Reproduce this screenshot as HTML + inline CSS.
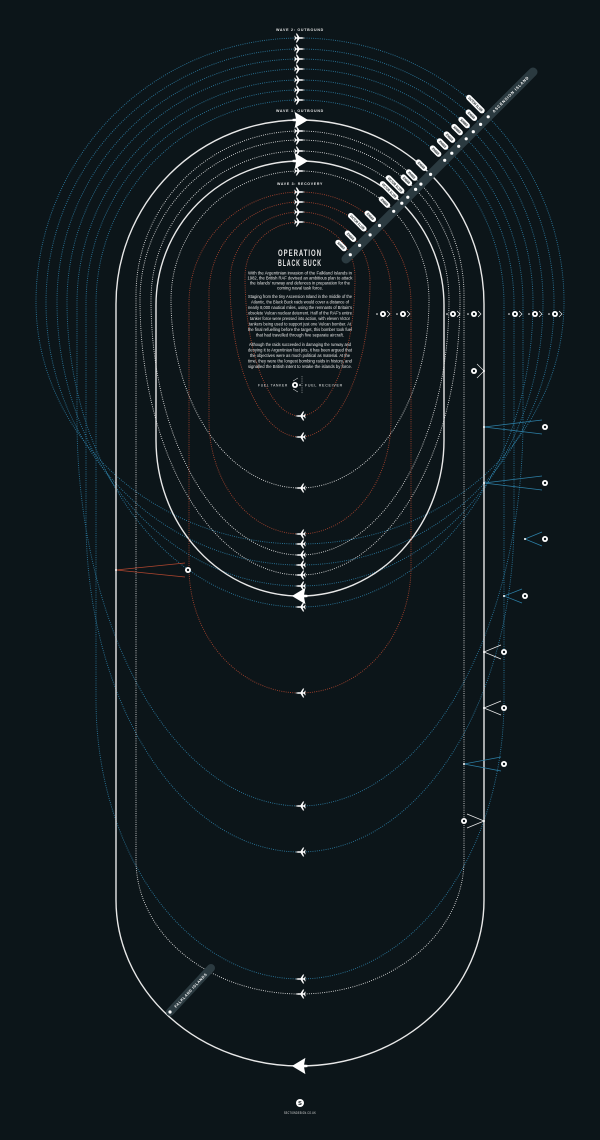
<!DOCTYPE html>
<html><head><meta charset="utf-8"><style>
html,body{margin:0;padding:0;background:#0c1519;}
svg{display:block;}
text{font-family:"Liberation Sans Narrow","Liberation Sans",sans-serif;}
</style></head><body>
<svg id="s" width="600" height="1140" viewBox="0 0 600 1140" xmlns="http://www.w3.org/2000/svg">
<rect width="600" height="1140" fill="#0c1519"/>
<defs>
<path id="pl" d="M5 0 L2 -0.7 L-0.5 -0.7 L-3 -4.5 L-4.2 -4.5 L-2.6 -0.7 L-4 -0.7 L-5 -2.2 L-5.7 -2.2 L-5.1 0 L-5.7 2.2 L-5 2.2 L-4 0.7 L-2.6 0.7 L-4.2 4.5 L-3 4.5 L-0.5 0.7 L2 0.7 Z" fill="#fff"/>
<path id="vu" d="M6 0 L-4 -6 L-3 -1 L-5.5 -0.8 L-5.5 0.8 L-3 1 L-4 6 Z" fill="#fff"/>
</defs>
<g id="g"></g>
<g font-size="4.4" fill="#e6e6e6" text-anchor="middle">
<text x="300" y="256" font-size="9" font-weight="bold" letter-spacing="1.5" textLength="44" lengthAdjust="spacingAndGlyphs">OPERATION</text>
<text x="300" y="266" font-size="9" font-weight="bold" letter-spacing="1.5" textLength="44" lengthAdjust="spacingAndGlyphs">BLACK BUCK</text>
<text x="300" y="274.5" textLength="104" lengthAdjust="spacingAndGlyphs">With the Argentinian invasion of the Falkland Islands in</text>
<text x="300" y="279.5" textLength="105" lengthAdjust="spacingAndGlyphs">1982, the British RAF devised an ambitious plan to attack</text>
<text x="300" y="284.5" textLength="100" lengthAdjust="spacingAndGlyphs">the Islands' runway and defences in preparation for the</text>
<text x="300" y="289.5" textLength="46" lengthAdjust="spacingAndGlyphs">coming naval task force.</text>
<text x="300" y="298" textLength="104" lengthAdjust="spacingAndGlyphs">Staging from the tiny Ascension Island in the middle of the</text>
<text x="300" y="303.5" textLength="98" lengthAdjust="spacingAndGlyphs">Atlantic, the Black Buck raids would cover a distance of</text>
<text x="300" y="309" textLength="104" lengthAdjust="spacingAndGlyphs">nearly 8,000 nautical miles, using the remnants of Britain's</text>
<text x="300" y="314.5" textLength="104" lengthAdjust="spacingAndGlyphs">obsolete Vulcan nuclear deterrent. Half of the RAF's entire</text>
<text x="300" y="320" textLength="100" lengthAdjust="spacingAndGlyphs">tanker force were pressed into action, with eleven Victor</text>
<text x="300" y="325.5" textLength="102" lengthAdjust="spacingAndGlyphs">tankers being used to support just one Vulcan bomber. At</text>
<text x="300" y="331" textLength="104" lengthAdjust="spacingAndGlyphs">the final refuelling before the target, this bomber took fuel</text>
<text x="300" y="336.5" textLength="88" lengthAdjust="spacingAndGlyphs">that had travelled through five separate aircraft.</text>
<text x="300" y="346" textLength="102" lengthAdjust="spacingAndGlyphs">Although the raids succeeded in damaging the runway and</text>
<text x="300" y="351.5" textLength="104" lengthAdjust="spacingAndGlyphs">denying it to Argentinian fast jets, it has been argued that</text>
<text x="300" y="357" textLength="100" lengthAdjust="spacingAndGlyphs">the objectives were as much political as material. At the</text>
<text x="300" y="362.5" textLength="104" lengthAdjust="spacingAndGlyphs">time, they were the longest bombing raids in history, and</text>
<text x="300" y="368" textLength="104" lengthAdjust="spacingAndGlyphs">signalled the British intent to retake the islands by force.</text>
<text x="273" y="386.5" font-size="4" letter-spacing="0.8" textLength="30" lengthAdjust="spacingAndGlyphs">FUEL TANKER</text>
<text x="324" y="386.5" font-size="4" letter-spacing="0.8" textLength="38" lengthAdjust="spacingAndGlyphs">FUEL RECEIVER</text>
<text x="300" y="31" font-size="4" font-weight="bold" letter-spacing="0.8" textLength="48" lengthAdjust="spacingAndGlyphs">WAVE 2: OUTBOUND</text>
<text x="300" y="112" font-size="4" font-weight="bold" letter-spacing="0.8" textLength="48" lengthAdjust="spacingAndGlyphs">WAVE 1: OUTBOUND</text>
<text x="300" y="185" font-size="4" font-weight="bold" letter-spacing="0.8" textLength="46" lengthAdjust="spacingAndGlyphs">WAVE 3: RECOVERY</text>
<text x="300" y="1114" font-size="3.2" letter-spacing="0.5" textLength="32" lengthAdjust="spacingAndGlyphs">SECTIONDESIGN.CO.UK</text>
</g>
<circle cx="300" cy="1103" r="4" fill="#fff"/>
<text x="300" y="1105" font-size="5.5" font-weight="bold" fill="#0c1519" text-anchor="middle">S</text>
</svg>
<script>
var g=document.getElementById('g'),h='';
var B='#2d7fa6',R='#b0462f',W='#e8e8e8';
function loop(top,rx,se,bot,c,solid){var cy=top+rx;if(se<cy)se=cy;var ry=bot-se;
var d='M300 '+top+' A'+rx+' '+rx+' 0 0 1 '+(300+rx)+' '+cy+' L'+(300+rx)+' '+se+' A'+rx+' '+ry+' 0 0 1 300 '+bot+' A'+rx+' '+ry+' 0 0 1 '+(300-rx)+' '+se+' L'+(300-rx)+' '+cy+' A'+rx+' '+rx+' 0 0 1 300 '+top;
h+='<path d="'+d+'" fill="none" stroke="'+c+'" stroke-width="'+(solid?1.4:0.9)+'"'+(solid?'':' stroke-dasharray="0.9 1.3"')+'/>';}
var L=[
[38,264,302,544,B,0,1],[49,254,303,565,B,0,0],[59,243,302,586,B,0,0],[69,233,302,607,B,0,0],[80,223,420,806,B,0,0],[90,214,520,852,B,0,0],[100,204,700,979,B,0,0],
[120,184,900,1066,W,1,0],[131,164,860,994,W,0,0],[140,160,0,575,W,0,0],[151,149,0,555,W,0,1],[161,144,440,596,W,1,1],[171,129,0,488,W,0,0],
[192,111,567,693,R,0,0],[202,91,420,534,R,0,1],[212,70,0,437,R,0,0],[222,55,0,416,R,0,0]];
L.forEach(function(a){loop(a[0],a[1],a[2],a[3],a[4],a[5]);});
// bar
h+='<line x1="533" y1="72" x2="346" y2="259" stroke="#2b3a40" stroke-width="9" stroke-linecap="round"/>';
h+='<text x="0" y="0" font-size="4" font-weight="bold" fill="#fff" letter-spacing="0.8" transform="translate(494,113) rotate(-45)" textLength="50" lengthAdjust="spacingAndGlyphs">ASCENSION ISLAND</text>';
L.forEach(function(a,i){var top=a[0],rx=a[1],cy=top+rx;var k=(305-cy)/(rx*Math.SQRT2);k=Math.max(-1,Math.min(1,k));var t=Math.acos(k)-Math.PI/4;
var x=300+rx*Math.cos(t),y=cy-rx*Math.sin(t);
h+='<circle cx="'+x.toFixed(1)+'" cy="'+y.toFixed(1)+'" r="1.6" fill="#fff"/>';
var len=a[6]?24:14,off=(6+len/2)*0.7071,px=x-off,py=y-off;
h+='<g transform="translate('+px.toFixed(1)+','+py.toFixed(1)+') rotate(45)"><rect x="'+(-len/2)+'" y="-2.8" width="'+len+'" height="5.6" rx="2.8" fill="#fff"/><text x="0" y="1.3" font-size="3.6" font-weight="bold" fill="#0c1519" text-anchor="middle" textLength="'+(len-5)+'" lengthAdjust="spacingAndGlyphs">'+(a[6]?'VICTOR XL189':'XH669')+'</text></g>';
var big=a[5]?1.35:1;
h+='<use href="#'+(a[5]?'vu':'pl')+'" transform="translate(300,'+top+') scale('+big+')"/>';
h+='<use href="#'+(a[5]?'vu':'pl')+'" transform="translate(300,'+a[3]+') scale(-'+big+','+big+')"/>';
});
// Falklands bar
h+='<line x1="170" y1="1012" x2="211" y2="968" stroke="#2b3a40" stroke-width="8" stroke-linecap="round"/><circle cx="170" cy="1012" r="1.6" fill="#fff"/>';
h+='<text font-size="3.8" font-weight="bold" fill="#fff" letter-spacing="0.6" transform="translate(176,1008) rotate(-47)" textLength="46" lengthAdjust="spacingAndGlyphs">FALKLAND ISLANDS</text>';
function mk(x,y){h+='<circle cx="'+x+'" cy="'+y+'" r="3" fill="#fff"/><circle cx="'+x+'" cy="'+y+'" r="1.2" fill="#0c1519"/>';}
function tri(mx,my,fx,c){h+='<path d="M'+fx+' '+my+' L'+(mx-3*(mx>fx?1:-1))+' '+(my-7)+' M'+fx+' '+my+' L'+(mx-3*(mx>fx?1:-1))+' '+(my+7)+'" stroke="'+c+'" stroke-width="0.7" fill="none"/><circle cx="'+fx+'" cy="'+my+'" r="1" fill="#fff"/>';mk(mx,my);}
[[545,427,484,B],[545,483,484,B],[545,539,525,B],[525,596,504,B],[504,652,484,W],[504,708,484,W],[504,764,464,B],[464,821,484,W],[188,570,116,R],[474,371,484,W]].forEach(function(m){tri(m[0],m[1],m[2],m[3]);});
[383,403,453,474,515,535,555].forEach(function(x){h+='<path d="M'+(x+4)+' 311 L'+(x+7)+' 314 L'+(x+4)+' 317" stroke="#fff" stroke-width="0.6" fill="none"/><circle cx="'+(x-6)+'" cy="314" r="0.8" fill="#fff"/>';mk(x,314);});
mk(295,385);h+='<circle cx="300" cy="385" r="0.8" fill="#fff"/><path d="M298 378 L293 381 M298 392 L293 389" stroke="#fff" stroke-width="0.5"/><line x1="302" y1="376" x2="302" y2="394" stroke="#fff" stroke-width="0.5" stroke-dasharray="0.8 1"/>';
g.innerHTML=h;
</script>
</body></html>
